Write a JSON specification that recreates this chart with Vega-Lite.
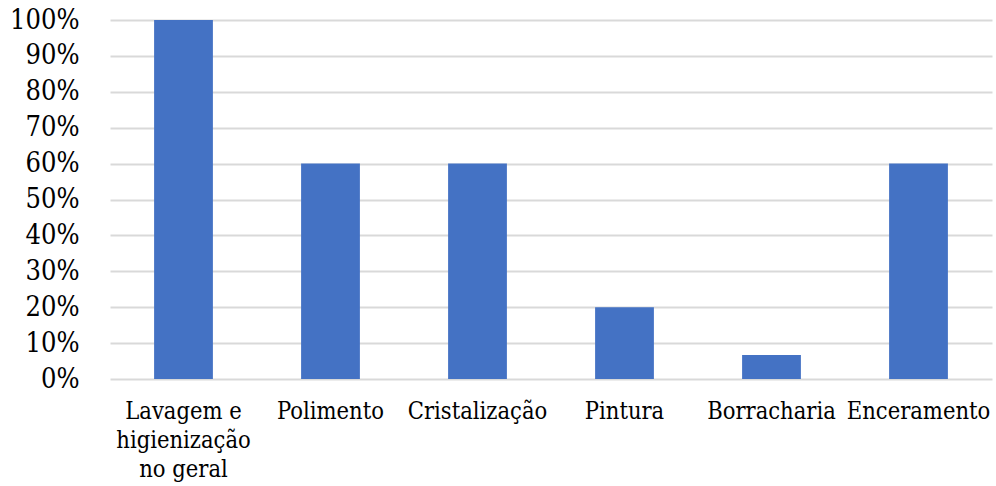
{
  "$schema": "https://vega.github.io/schema/vega-lite/v6.json",
  "autosize": {"type": "none"},
  "padding": {"left": 110, "top": 20, "right": 4, "bottom": 107},
  "width": 882,
  "height": 359,
  "background": "white",
  "config": {
    "view": {"stroke": null}
  },
  "data": {
    "values": [
      {"servico": "Lavagem e|higienização|no geral", "percentual": 1.0},
      {"servico": "Polimento", "percentual": 0.6},
      {"servico": "Cristalização", "percentual": 0.6},
      {"servico": "Pintura", "percentual": 0.2},
      {"servico": "Borracharia", "percentual": 0.0667},
      {"servico": "Enceramento", "percentual": 0.6}
    ]
  },
  "mark": {"type": "bar", "color": "#4472C4"},
  "encoding": {
    "x": {
      "field": "servico",
      "type": "nominal",
      "sort": null,
      "scale": {"paddingInner": 0.6, "paddingOuter": 0.3},
      "axis": {
        "title": null,
        "labelAngle": 0,
        "labelExpr": "split(datum.label, '|')",
        "labelFont": "DejaVu Serif Condensed",
        "labelFontSize": 23.5,
        "labelLineHeight": 29,
        "labelColor": "#000000",
        "labelPadding": 20,
        "labelLimit": 300,
        "ticks": false,
        "domain": false
      }
    },
    "y": {
      "field": "percentual",
      "type": "quantitative",
      "scale": {"domain": [0, 1], "nice": false},
      "axis": {
        "title": null,
        "values": [0, 0.1, 0.2, 0.3, 0.4, 0.5, 0.6, 0.7, 0.8, 0.9, 1.0],
        "format": ".0%",
        "labelFont": "DejaVu Serif Condensed",
        "labelFontSize": 27,
        "labelColor": "#000000",
        "labelPadding": 31,
        "ticks": false,
        "domain": false,
        "grid": true,
        "gridColor": "#D9D9D9",
        "gridWidth": 2
      }
    }
  }
}
